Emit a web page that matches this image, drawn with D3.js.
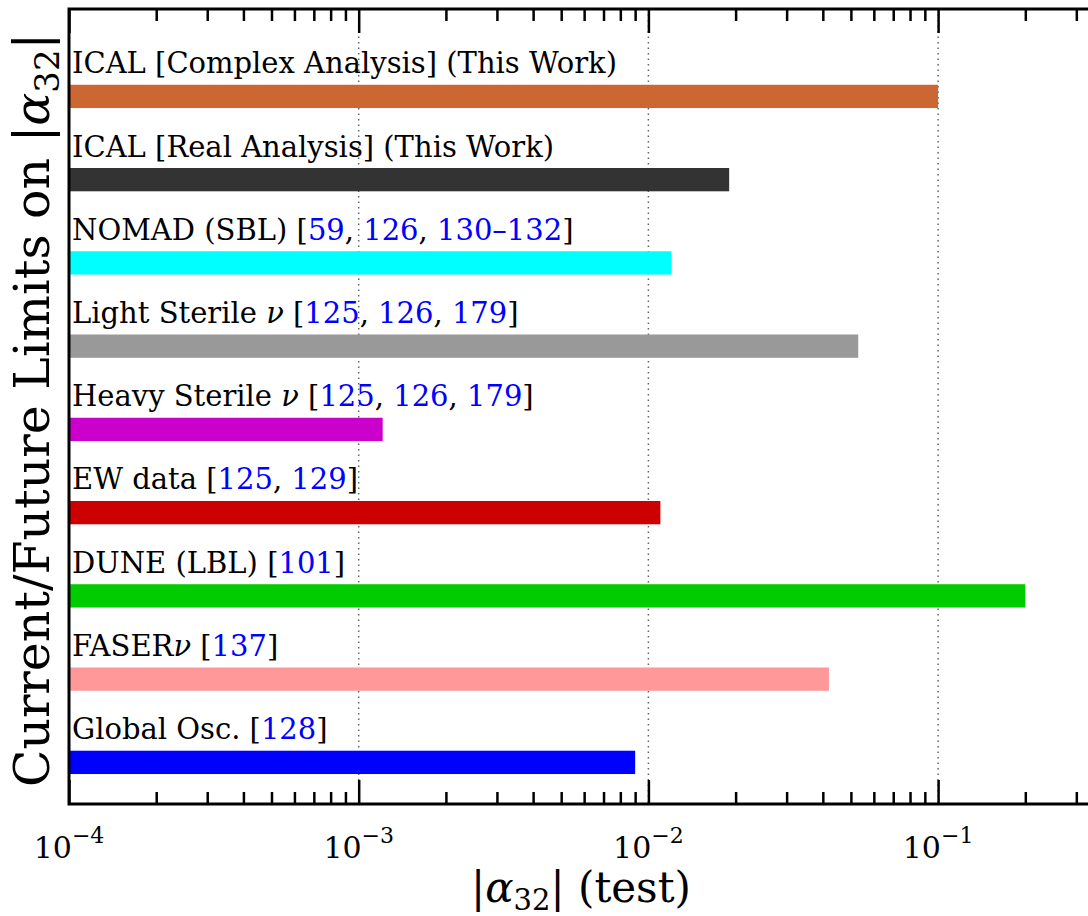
<!DOCTYPE html>
<html>
<head>
<meta charset="utf-8">
<script src="https://cdn.jsdelivr.net/npm/d3@7"></script>
<style>
body { margin: 0; background: #fff; }
svg { display: block; }
text { font-family: "DejaVu Serif", "Liberation Serif", serif; fill: #000; }
</style>
</head>
<body>
<svg id="chart" width="1088" height="916"></svg>
<script>
// experiments, top to bottom
var names = ["ICAL [Complex Analysis] (This Work)", "ICAL [Real Analysis] (This Work)", "NOMAD (SBL)",
	"Light Sterile ν", "Heavy Sterile ν", "EW data", "DUNE (LBL)", "FASERν", "Global Osc."];
var refs = [[], [], ["59", "126", "130–132"], ["125", "126", "179"], ["125", "126", "179"],
	["125", "129"], ["101"], ["137"], ["128"]];
var limits = [0.1, 0.019, 0.012, 0.053, 0.00121, 0.011, 0.2, 0.042, 0.009];
var colors = ["#cc6633", "#333333", "#00ffff", "#999999", "#cc00cc", "#cc0000", "#00cc00", "#ff9999", "#0000ff"];
var majorTicks = [1e-4, 1e-3, 1e-2, 1e-1];
var tickExps = ["−4", "−3", "−2", "−1"];

var svg = d3.select("#chart"),
	margin = {top: 9, left: 69, bottom: 112},
	height = +svg.attr("height") - margin.top - margin.bottom;

var x = d3.scaleLog().domain([1e-4, 1]).range([margin.left, margin.left + 4 * 289.7]);
// bars sit at 9..1 from top, like the original plot's y positions
var y = d3.scaleLinear().domain([0.5, 10.05]).range([margin.top + height, margin.top]);
var barH = 23.3;

var minorTicks = [];
for (var e = -4; e < 0; e++) {
	for (var m = 2; m <= 9; m++) minorTicks.push(m * Math.pow(10, e));
}

var yBottom = margin.top + height;

// dotted grid at decades
svg.append("g").selectAll("line")
	.data(majorTicks.slice(1))
	.enter().append("line")
	.attr("x1", function(d) { return x(d); })
	.attr("x2", function(d) { return x(d); })
	.attr("y1", margin.top)
	.attr("y2", yBottom)
	.attr("stroke", "#666")
	.attr("stroke-width", 1.5)
	.attr("stroke-dasharray", "1.5,4");

// bars
var rows = svg.append("g").selectAll("g")
	.data(names)
	.enter().append("g");

rows.append("rect")
	.attr("x", x(1e-4))
	.attr("y", function(d, i) { return y(9 - i) - barH / 2; })
	.attr("width", function(d, i) { return x(limits[i]) - x(1e-4); })
	.attr("height", barH)
	.attr("fill", function(d, i) { return colors[i]; });

var labels = rows.append("text")
	.attr("x", 72)
	.attr("y", function(d, i) { return y(9 - i) - barH / 2 - 11.5; })
	.style("font-size", "29px");

labels.each(function(d, i) {
	var t = d3.select(this);
	var parts = d.split("ν");
	parts.forEach(function(p, k) {
		if (k > 0) t.append("tspan").style("font-style", "italic").text("ν");
		if (p) t.append("tspan").text(p);
	});
	if (refs[i].length) {
		t.append("tspan").text(" [");
		refs[i].forEach(function(r, k) {
			if (k > 0) t.append("tspan").text(", ");
			t.append("tspan").style("fill", "#0000ff").text(r);
		});
		t.append("tspan").text("]");
	}
});

// ticks, bottom and top, pointing in
svg.append("g")
	.attr("transform", "translate(0," + yBottom + ")")
	.call(d3.axisBottom(x).tickValues(majorTicks).tickSize(-24).tickFormat(""))
	.call(function(g) { g.select(".domain").remove(); });
svg.append("g")
	.attr("transform", "translate(0," + yBottom + ")")
	.call(d3.axisBottom(x).tickValues(minorTicks).tickSize(-12).tickFormat(""))
	.call(function(g) { g.select(".domain").remove(); });
svg.append("g")
	.attr("transform", "translate(0," + margin.top + ")")
	.call(d3.axisTop(x).tickValues(majorTicks).tickSize(-24).tickFormat(""))
	.call(function(g) { g.select(".domain").remove(); });
svg.append("g")
	.attr("transform", "translate(0," + margin.top + ")")
	.call(d3.axisTop(x).tickValues(minorTicks).tickSize(-12).tickFormat(""))
	.call(function(g) { g.select(".domain").remove(); });
svg.selectAll(".tick line").attr("stroke", "#000").attr("stroke-width", 2.5);

// frame: left, top, bottom (right edge is off the picture)
svg.append("path")
	.attr("d", "M1100," + margin.top + "H" + margin.left + "V" + yBottom + "H1100")
	.attr("fill", "none")
	.attr("stroke", "#000")
	.attr("stroke-width", 3);

// tick labels 10^n
var tl = svg.append("g").selectAll("text")
	.data(majorTicks)
	.enter().append("text")
	.attr("x", function(d) { return x(d); })
	.attr("y", 858)
	.attr("text-anchor", "middle")
	.style("font-size", "30px");
tl.append("tspan").text("10");
tl.append("tspan")
	.attr("dy", -15)
	.style("font-size", "22px")
	.text(function(d, i) { return tickExps[i]; });

// axis titles
var xt = svg.append("text")
	.attr("x", 581)
	.attr("y", 902)
	.attr("text-anchor", "middle")
	.style("font-size", "42px");
xt.append("tspan").text("|");
xt.append("tspan").style("font-style", "italic").text("α");
xt.append("tspan").attr("dy", 8).style("font-size", "29px").text("32");
xt.append("tspan").attr("dy", -8).text("|  (test)");

var yt = svg.append("text")
	.attr("transform", "translate(49," + 410 + ") rotate(-90)")
	.attr("text-anchor", "middle")
	.style("font-size", "49px");
yt.append("tspan").text("Current/Future Limits on |");
yt.append("tspan").style("font-style", "italic").text("α");
yt.append("tspan").attr("dy", 10).style("font-size", "34px").text("32");
yt.append("tspan").attr("dy", -10).text("|");
</script>
</body>
</html>
